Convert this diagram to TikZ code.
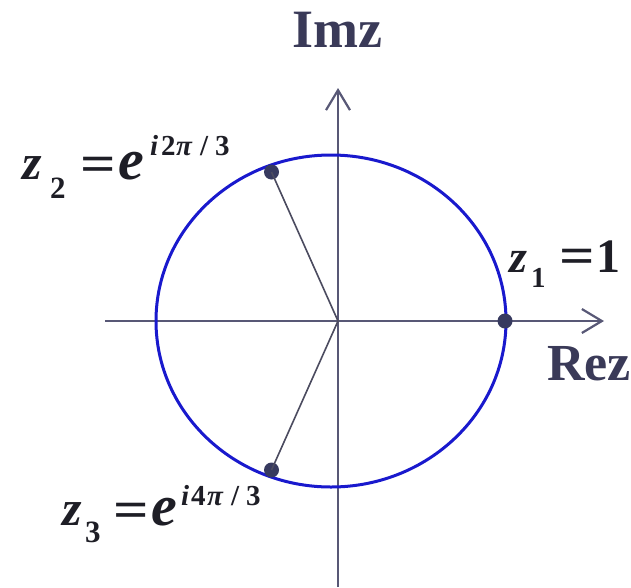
\documentclass[tikz,border=0pt]{standalone}
\usepackage{fontspec}
\setmainfont{Liberation Serif}
\usetikzlibrary{arrows.meta}
\definecolor{axiscol}{RGB}{88,88,118}
\definecolor{axtext}{RGB}{58,58,88}
\definecolor{lbltext}{RGB}{30,30,38}
\definecolor{circcol}{RGB}{25,25,205}
\definecolor{dotcol}{RGB}{55,58,95}
\definecolor{radcol}{RGB}{75,75,95}
\newcommand{\fsz}[1]{\fontsize{#1}{#1}\selectfont}
% glyph in a box of fixed advance, optionally raised
\newcommand{\gl}[3][0]{\raisebox{#1pt}{\makebox[#2pt][l]{#3}}}
\newcommand{\eqsign}{\fsz{52}\upshape\scalebox{1.2}[1]{=}}
\begin{document}
\begin{tikzpicture}[x=1pt,y=-1pt,
  axisline/.style={draw=axiscol, line width=2.2pt, -{Straight Barb[length=20pt,width=24pt]}},
  radline/.style={draw=radcol, line width=1.6pt},
  unitcirc/.style={draw=circcol, line width=3pt},
  ptdot/.style={circle, fill=dotcol, inner sep=0pt, minimum size=15pt},
  axlbl/.style={inner sep=0pt, text=axtext, font=\fsz{54}\bfseries},
  zlbl/.style={inner sep=0pt, text=lbltext, font=\bfseries}
]
\useasboundingbox (0,0) rectangle (631,587);
% axes
\coordinate (O) at (338,321);
\coordinate (xl) at (105,321);
\coordinate (xr) at (604,321);
\coordinate (yb) at (338,587);
\coordinate (yt) at (338,88);
\draw[axisline] (xl) -- (xr);
\draw[axisline] (yb) -- (yt);
% circle
\draw[unitcirc] (331,321) ellipse [x radius=175, y radius=166];
% points
\node[ptdot] (z1) at (505,321) {};
\node[ptdot] (z2) at (271.5,172) {};
\node[ptdot] (z3) at (271.5,470) {};
\draw[radline] (O) -- (z2.center);
\draw[radline] (O) -- (z3.center);
% axis labels
\node[axlbl, anchor=base] (imz) at (337,47) {Imz};
\node[axlbl, anchor=base west, font=\fsz{52}\bfseries] (rez) at (547,380) {Rez};
% point labels
\node[zlbl, anchor=base west] (l1) at (509,272) {%
  \gl{22}{\fsz{46}\itshape z}%
  \gl[-15]{28}{\fsz{29}\upshape 1}%
  \gl[-1]{37}{\eqsign}%
  \gl{24}{\fsz{48}\upshape 1}};
\node[zlbl, anchor=base west] (l2) at (22,179) {%
  \gl{28}{\fsz{50}\itshape z}%
  \gl[-19]{30}{\fsz{31}\upshape 2}%
  \gl[-2]{38}{\eqsign}%
  \gl{32}{\fsz{58}\itshape e}%
  \gl[24]{11}{\fsz{29}\itshape i}%
  \gl[24]{15}{\fsz{29}\upshape 2}%
  \gl[24]{24}{\fsz{29}\itshape π}%
  \gl[24]{15}{\fsz{29}\upshape /}%
  \gl[24]{16}{\fsz{29}\upshape 3}};
\node[zlbl, anchor=base west] (l3) at (62,525) {%
  \gl{23}{\fsz{50}\itshape z}%
  \gl[-17]{28}{\fsz{31}\upshape 3}%
  \gl[-2]{38}{\eqsign}%
  \gl{30}{\fsz{58}\itshape e}%
  \gl[20]{10}{\fsz{29}\itshape i}%
  \gl[20]{16}{\fsz{29}\upshape 4}%
  \gl[20]{24}{\fsz{29}\itshape π}%
  \gl[20]{15}{\fsz{29}\upshape /}%
  \gl[20]{16}{\fsz{29}\upshape 3}};
\end{tikzpicture}
\end{document}
